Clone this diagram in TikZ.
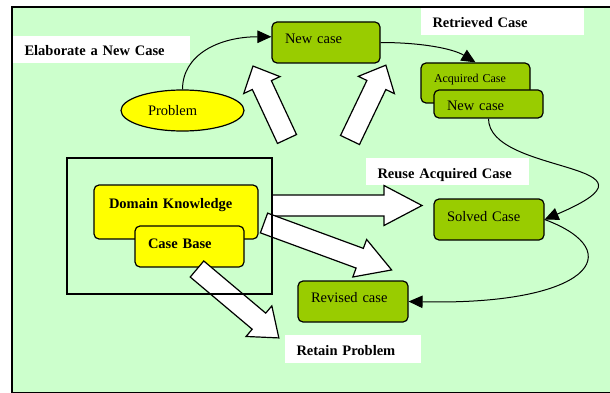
\documentclass[tikz,border=0pt]{standalone}
\usepackage{fontspec}
\setmainfont{Liberation Serif}
\usetikzlibrary{arrows.meta,shapes.geometric}
\definecolor{paleground}{HTML}{CCFFCC}
\definecolor{casegreen}{HTML}{99CC00}
\definecolor{kbyellow}{HTML}{FFFF00}
% hollow block arrow: base point, angle, length, head length
\newcommand{\fatarrow}[4]{%
  \draw[fatarr, shift={#1}, rotate=#2] (0,-10.5) -- ({#3-#4},-10.5) -- ({#3-#4},-20)
    -- (#3,0) -- ({#3-#4},20) -- ({#3-#4},10.5) -- (0,10.5) -- cycle;}

\begin{document}
\begin{tikzpicture}[
  x=1pt, y=-1pt,
  >={Triangle[length=14pt,width=12.5pt]},
  font=\fontsize{14.5}{17}\selectfont,
  curve/.style={->, draw=black, line width=1pt},
  casebox/.style={draw=black, fill=casegreen, rounded corners=5pt, line width=1.2pt,
    inner xsep=13pt, align=left, minimum height=41pt, text height=10pt, text depth=7pt},
  kbbox/.style={casebox, fill=kbyellow, font=\fontsize{14.5}{17}\selectfont\bfseries},
  steplabel/.style={fill=white, inner xsep=11.5pt, align=left, minimum height=27pt,
    text height=16pt, text depth=3pt, font=\fontsize{14.5}{17}\selectfont\bfseries},
  fatarr/.style={draw=black, fill=white, line width=1.2pt}
]
  \useasboundingbox (0,0) rectangle (610,393);
  \fill[white] (0,0) rectangle (610,393);
  \draw[fill=paleground, line width=1.2pt] (12,7) rectangle (610.6,392.6);

  % step labels
  \node[steplabel, text width=154pt] (elaborate) at (101.5,49.5) {Elaborate a New Case};
  \node[steplabel, text width=140pt] (retrieved) at (502.5,21.5) {Retrieved Case};
  \node[steplabel, text width=140pt] (reuse) at (447.5,171.5) {Reuse Acquired Case};
  \node[steplabel, text width=113pt, minimum height=28pt] (retain) at (353,349) {Retain Problem};

  % cases
  \node[casebox, text width=82pt] (newcase) at (326,42.5) {New case};
  \node[casebox, text width=83pt, minimum height=40pt, text depth=10pt,
    font=\fontsize{12}{14}\selectfont] (acquired) at (475.5,83) {Acquired Case};
  \node[casebox, text width=83pt, minimum height=28pt, text height=16pt, text depth=3pt]
    (newcase2) at (488.5,104) {New case};
  \node[casebox, text width=84pt] (solved) at (489,219.5) {Solved Case};
  \node[casebox, text width=84pt, text depth=9pt] (revised) at (353,301.5) {Revised case};

  % knowledge
  \node[kbbox, inner xsep=15pt, text width=134pt, minimum height=54pt, text depth=18pt]
    (domain) at (176,212) {Domain Knowledge};
  \node[kbbox, text width=83pt] (casebase) at (189.5,246.5) {Case Base};
  \node[ellipse, draw=black, fill=kbyellow, line width=1.2pt, minimum width=123pt,
    minimum height=41pt, text width=69pt, align=left, inner sep=0pt]
    (problem) at (182.5,110.5) {Problem};

  % block arrows
  \fatarrow{(287,139)}{115}{80.5}{21}
  \fatarrow{(350,140)}{64.4}{83}{22}
  \fatarrow{(272,205.5)}{0}{150}{38}
  \fatarrow{(264,223)}{-20.2}{136}{34}
  \fatarrow{(197,269)}{-40.1}{107}{26}

  \draw[line width=1.2pt] (67,158) rectangle (272,294);

  % connectors
  \draw[curve] (problem.north) .. controls +(0,-35) and +(-52,0) .. (newcase.174);
  \draw[curve] (newcase.east) .. controls +(40,0) and +(-23,-14) .. (acquired.north);
  \draw[curve] (newcase2.south) .. controls +(0,57) and +(136,-58) .. (solved.east);
  \draw[curve] (solved.east) .. controls +(86,32) and +(181,4) .. (revised.east);
\end{tikzpicture}
\end{document}
